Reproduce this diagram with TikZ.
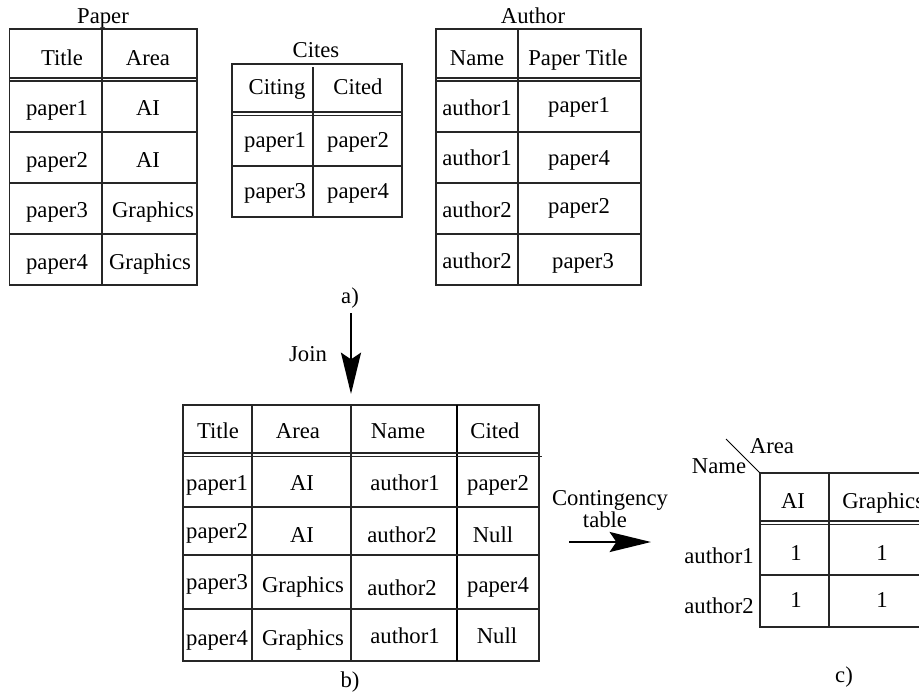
\documentclass[tikz,border=0pt]{standalone}
\usepackage{fontspec}
\setmainfont{Liberation Serif}
\usetikzlibrary{arrows.meta}
\begin{document}
\begin{tikzpicture}[x=0.75pt,y=-0.75pt,
  txt/.style={font=\fontsize{17}{19}\selectfont, inner sep=0pt, anchor=base},
  rule/.style={line width=0.8pt, draw=black!85},
  bigarrow/.style={line width=1.7pt, -{Stealth[length=31pt,width=15pt,inset=5pt]}}]
\useasboundingbox (0,0) rectangle (919,694);
\clip (0,0) rectangle (919,694);

% ---------- Paper table ----------
\node[txt] (pTitle) at (103,23) {Paper};
\draw[rule] (9.5,29) rectangle (197,285);
\draw[rule] (102,29) -- (102,285);
\draw[rule] (9.5,78) -- (197,78);
\draw[rule] (9.5,81) -- (197,81);
\foreach \yy in {132,183,234} \draw[rule] (9.5,\yy) -- (197,\yy);
\node[txt] (pH1) at (62,65) {Title};
\node[txt] (pH2) at (148,65) {Area};
\node[txt] (p11) at (57,115) {paper1};
\node[txt] (p12) at (148,115) {AI};
\node[txt] (p21) at (57,167) {paper2};
\node[txt] (p22) at (148,167) {AI};
\node[txt] (p31) at (57,217) {paper3};
\node[txt] (p32) at (153,217) {Graphics};
\node[txt] (p41) at (57,269) {paper4};
\node[txt] (p42) at (150,269) {Graphics};

% ---------- Cites table ----------
\node[txt] (cTitle) at (316,57) {Cites};
\draw[rule] (232,64) rectangle (402,217);
\draw[rule] (313,67) -- (313,217);
\draw[rule] (232,112) -- (402,112);
\draw[rule] (232,115.5) -- (402,115.5);
\draw[rule] (232,166) -- (402,166);
\node[txt] (cH1) at (277,94) {Citing};
\node[txt] (cH2) at (358,94) {Cited};
\node[txt] (c11) at (275,147) {paper1};
\node[txt] (c12) at (358,147) {paper2};
\node[txt] (c21) at (275,198) {paper3};
\node[txt] (c22) at (358,198) {paper4};

% ---------- Author table ----------
\node[txt] (aTitle) at (533,23) {Author};
\draw[rule] (436,29) rectangle (641,285);
\draw[rule] (518,29) -- (518,285);
\draw[rule] (436,78) -- (641,78);
\draw[rule] (436,81) -- (641,81);
\foreach \yy in {132,183,234} \draw[rule] (436,\yy) -- (641,\yy);
\node[txt] (aH1) at (477,65) {Name};
\node[txt] (aH2) at (578,65) {Paper Title};
\node[txt] (a11) at (477,115) {author1};
\node[txt] (a12) at (579,112) {paper1};
\node[txt] (a21) at (477,165) {author1};
\node[txt] (a22) at (579,165) {paper4};
\node[txt] (a31) at (477,217) {author2};
\node[txt] (a32) at (579,213) {paper2};
\node[txt] (a41) at (477,268) {author2};
\node[txt] (a42) at (583,268) {paper3};

\node[txt] (labA) at (350,303) {a)};

% ---------- Join arrow ----------
\coordinate (joinFrom) at (351,313);
\coordinate (joinTo) at (351,394);
\draw[bigarrow] (joinFrom) -- (joinTo);
\node[txt] (joinLab) at (308,361) {Join};

% ---------- Joined table ----------
\draw[rule] (183,405) rectangle (539,661);
\draw[rule] (252,405) -- (252,661);
\draw[rule] (351,405) -- (351,661);
\draw[line width=1.1pt] (457,405) -- (457,661);
\draw[rule] (183,453) -- (539,453);
\draw[rule] (183,456.5) -- (542,456.5);
\foreach \yy in {507,555,609} \draw[rule] (183,\yy) -- (539,\yy);
\node[txt] (jH1) at (218,438) {Title};
\node[txt] (jH2) at (298,438) {Area};
\node[txt] (jH3) at (398,438) {Name};
\node[txt] (jH4) at (495,438) {Cited};
\node[txt] (j11) at (217,490) {paper1};
\node[txt] (j12) at (302,490) {AI};
\node[txt] (j13) at (405,490) {author1};
\node[txt] (j14) at (498,490) {paper2};
\node[txt] (j21) at (217,538) {paper2};
\node[txt] (j22) at (302,542) {AI};
\node[txt] (j23) at (402,542) {author2};
\node[txt] (j24) at (493,542) {Null};
\node[txt] (j31) at (217,589) {paper3};
\node[txt] (j32) at (303,592) {Graphics};
\node[txt] (j33) at (402,595) {author2};
\node[txt] (j34) at (498,592) {paper4};
\node[txt] (j41) at (217,645) {paper4};
\node[txt] (j42) at (303,645) {Graphics};
\node[txt] (j43) at (405,643) {author1};
\node[txt] (j44) at (497,643) {Null};
\node[txt] (labB) at (350,687) {b)};

% ---------- Contingency arrow ----------
\node[txt] (ctLab1) at (610,505) {Contingency};
\node[txt] (ctLab2) at (605,527) {table};
\coordinate (ctFrom) at (569,542);
\coordinate (ctTo) at (651,542);
\draw[bigarrow] (ctFrom) -- (ctTo);

% ---------- Contingency table ----------
\coordinate (diagA) at (726,439);
\coordinate (diagB) at (760,473);
\draw[line width=0.6pt] (diagA) -- (diagB);
\draw[rule] (760,473) -- (940,473);
\draw[rule] (760,473) -- (760,627) -- (940,627);
\draw[rule] (829,473) -- (829,627);
\draw[rule] (760,521) -- (940,521);
\draw[rule] (760,524.5) -- (940,524.5);
\draw[rule] (760,575) -- (940,575);
\node[txt] (kArea) at (772,453) {Area};
\node[txt] (kName) at (719,473) {Name};
\node[txt] (kH1) at (793,508) {AI};
\node[txt, anchor=base west] (kH2) at (842,508) {Graphics};
\node[txt] (kR1) at (719,563) {author1};
\node[txt] (k11) at (796,560) {1};
\node[txt] (k12) at (882,560) {1};
\node[txt] (kR2) at (719,613) {author2};
\node[txt] (k21) at (796,607) {1};
\node[txt] (k22) at (882,607) {1};
\node[txt] (labC) at (844,682) {c)};
\end{tikzpicture}
\end{document}
